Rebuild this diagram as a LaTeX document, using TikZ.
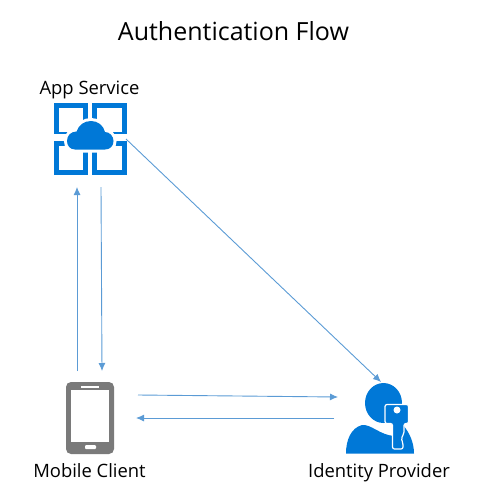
\documentclass[tikz,border=0pt]{standalone}
\usepackage{fontspec}
\setmainfont{Open Sans}
\usetikzlibrary{arrows.meta}
\definecolor{azure}{HTML}{0078D7}
\definecolor{link}{HTML}{5B9BD5}
\definecolor{phone}{HTML}{7A7A7A}
\tikzset{
  flow/.style={draw=link,line width=0.9pt,-{Latex[length=8pt,width=7pt]}},
  label/.style={anchor=base,inner sep=0pt,text=black,font=\fontsize{18.4}{22}\selectfont},
  titletext/.style={anchor=base,inner sep=0pt,text=black,font=\fontsize{25}{30}\selectfont},
  frame/.style={fill=white,draw=azure,line width=5pt,miter limit=10},
}
\begin{document}
\begin{tikzpicture}[x=1pt,y=-1pt]
\useasboundingbox (0,0) rectangle (495,504);
\node[titletext] (title) at (233.5,40) {Authentication Flow};
\node[label] (applabel) at (89.5,94) {App Service};
\node[label] (mobilelabel) at (89.5,477) {Mobile Client};
\node[label] (idplabel) at (379,477) {Identity Provider};
% App Service icon
\draw[frame] (56.5,105.5) rectangle (85.5,134);
\draw[frame] (94.5,105.5) rectangle (124,134);
\draw[frame] (56.5,143.5) rectangle (85.5,172.5);
\draw[frame] (94.5,143.5) rectangle (124,172.5);
\fill[white] (54,134) rectangle (127,141);
\fill[white] (88,103) rectangle (92,175);
\path[fill=azure,preaction={draw=white,line width=6pt}]
  (75,149.5) .. controls (70,149.5) and (67,145.5) .. (67,141)
  .. controls (67,135.5) and (71,131.5) .. (76.5,131.5)
  .. controls (78.5,125) and (84.5,121) .. (91,121)
  .. controls (98,121) and (103.5,125.5) .. (105,132)
  .. controls (109.5,132) and (113.5,136) .. (113.5,141)
  .. controls (113.5,146) and (110,149.5) .. (105,149.5) -- cycle;
% Mobile icon
\fill[phone,rounded corners=5pt] (66,382) rectangle (114,454);
\fill[white] (71,390) rectangle (109,442);
\fill[white] (81,385.5) rectangle (99,388);
\fill[white,rounded corners=1pt] (85,445) rectangle (96,449);
% Identity icon
\fill[azure] (346,453.5) .. controls (346,440) and (351,428) .. (362,425)
  .. controls (371,424) and (380,435) .. (394,436)
  -- (403,425) .. controls (409,432) and (414,442) .. (414,453.5) -- cycle;
\fill[azure] (383.5,403) ellipse (18.5 and 20);
\draw[fill=azure,draw=white,line width=1.2pt,rounded corners=2pt]
  (385,404.5) -- (408.5,404.5) -- (408.5,423.5) -- (404,423.5) -- (404,434)
  -- (401,438) -- (403,443) -- (403,449) -- (392.5,449) -- (392.5,423.5) -- (385,423.5) -- cycle;
\fill[white] (397,410) circle (3.5);
% Connector ends
\coordinate (appup) at (77,187);
\coordinate (appdown) at (101,187);
\coordinate (appdiag) at (126,139);
\coordinate (phoneup) at (77,371);
\coordinate (phonedown) at (102,371);
\coordinate (phoneout) at (138,395);
\coordinate (phonein) at (136,418);
\coordinate (idpin) at (381,382);
\coordinate (idpleft) at (338,397);
\coordinate (idpout) at (334,418);
\draw[flow] (phoneup) -- (appup);
\draw[flow] (appdown) -- (phonedown);
\draw[flow] (appdiag) -- (idpin);
\draw[flow] (phoneout) -- (idpleft);
\draw[flow] (idpout) -- (phonein);
\end{tikzpicture}
\end{document}
